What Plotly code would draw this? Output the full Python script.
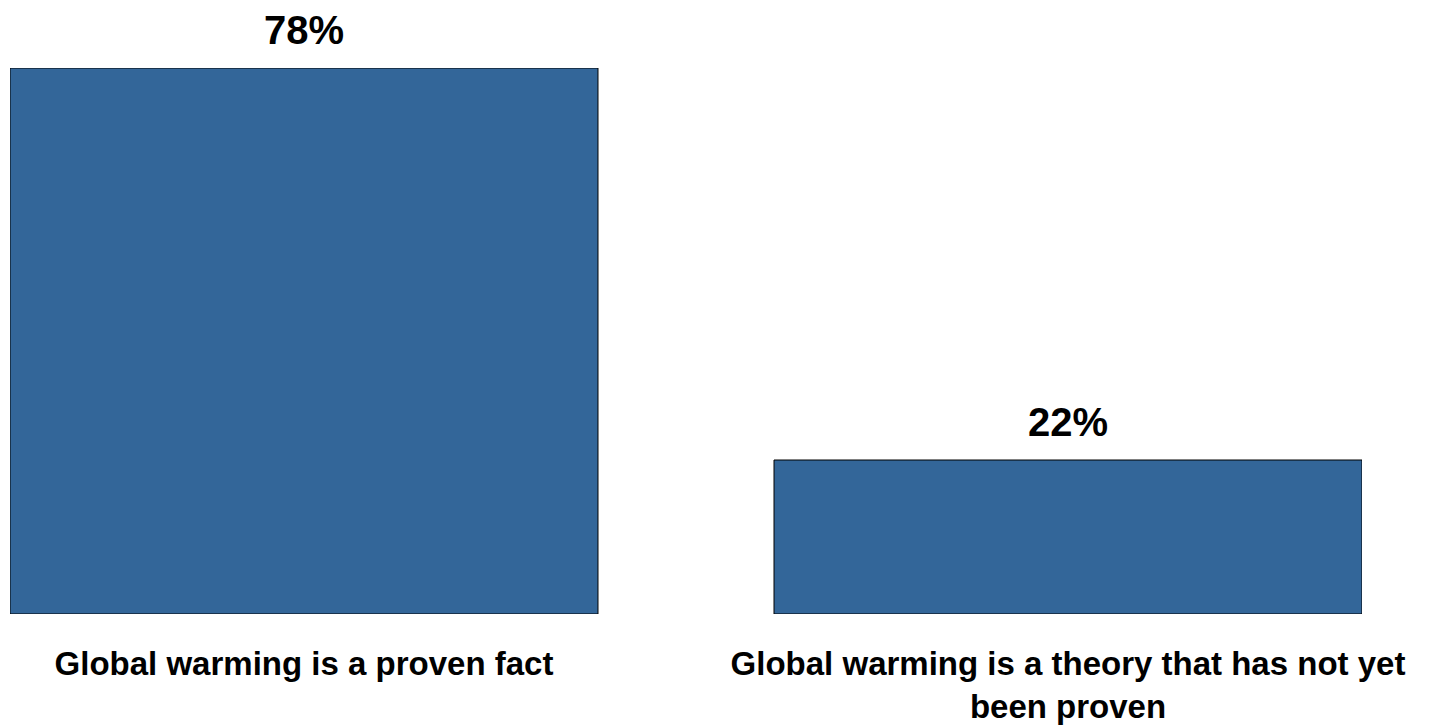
import plotly.graph_objects as go

categories = [
    "Global warming is a proven fact",
    "Global warming is a theory that has not yet<br>been proven",
]
values = [78, 22]
value_labels = ["78%", "22%"]

bar_color = "#336699"
font_family = "Arial, Liberation Sans, sans-serif"

fig = go.Figure()
fig.add_trace(
    go.Bar(
        x=categories,
        y=values,
        marker=dict(color=bar_color, line=dict(color="black", width=1)),
        hoverinfo="skip",
    )
)

for c, v, t in zip(categories, values, value_labels):
    fig.add_annotation(
        x=c, y=v, text=t, showarrow=False, yanchor="bottom", yshift=15,
        borderpad=0,
        font=dict(family=font_family, size=40, color="black", weight="bold"),
    )

# page body has an 8px default margin, so the figure is sized to fit
fig.update_layout(
    width=1425, height=718,
    margin=dict(l=2, r=71, t=60, b=112),
    paper_bgcolor="white", plot_bgcolor="white",
    bargap=0.2304,
    showlegend=False,
    xaxis=dict(
        type="category",
        range=[-0.3848, 1.3848],
        automargin=False,
        showline=False, showgrid=False, zeroline=False, ticks="",
        tickfont=dict(family=font_family, size=33, color="black", weight="bold"),
        ticklabelstandoff=27,
    ),
    yaxis=dict(
        range=[0, 78], visible=False, showgrid=False, zeroline=False,
        automargin=False,
    ),
)

fig.write_html("out.html")
